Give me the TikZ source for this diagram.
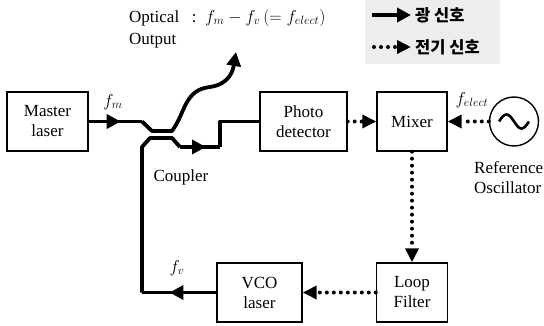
\documentclass[tikz,border=0pt]{standalone}
\usepackage{fontspec}
\setmainfont{Liberation Serif}
\newfontfamily\krfont{Noto Sans CJK KR}
\usetikzlibrary{arrows.meta,decorations.markings}
\tikzset{
  blk/.style={draw,line width=1.4pt,minimum width=#1,minimum height=59pt,inner sep=2pt,align=center,font=\fontsize{17}{20}\selectfont},
  lbl/.style={font=\fontsize{17}{20}\selectfont,inner sep=1pt},
  kr/.style={font=\krfont\bfseries\fontsize{16.5}{19}\selectfont,inner sep=4pt},
  opt/.style={line width=3.8pt,line join=round},
  optarr/.style={opt,-{Triangle[length=14pt,width=14pt]}},
  elec/.style={line width=4pt,line cap=round,dash pattern=on 0pt off 7pt,-{Triangle[length=14pt,width=13pt]}},
  midarr/.style={postaction={decorate},decoration={markings,mark=at position #1 with {\arrow{Triangle[length=14pt,width=14pt]}}}}
}
\begin{document}
\begin{tikzpicture}[x=1pt,y=-1pt]
\useasboundingbox (0,0) rectangle (544,326);
% legend
\fill[gray!14] (365,0) rectangle (500,64);
\node[kr,anchor=west] (lgopt) at (411,15) {광 신호};
\node[kr,anchor=west] (lgele) at (411,47) {전기 신호};
\coordinate (lgo) at (372,15);
\coordinate (lge) at (374,47);
\draw[optarr] (lgo) -- (lgopt.west);
\draw[elec] (lge) -- (lgele.west);
% blocks
\node[blk=81pt] (master) at (47.5,121.5) {Master\\laser};
\node[blk=87pt] (photo) at (303.5,121.5) {Photo\\detector};
\node[blk=70pt] (mixer) at (412,121.5) {Mixer};
\node[blk=71pt] (loop) at (412,292.5) {Loop\\Filter};
\node[blk=85pt] (vco) at (259.5,292.5) {VCO\\laser};
\node[draw,circle,line width=1.4pt,minimum size=49pt,inner sep=0pt] (osc) at (514,121.5) {};
\draw[line width=2.6pt,shift={(osc.center)},domain=-15:15,samples=40] plot (\x,{7*sin(\x*12)});
% coupler
\coordinate (cpa) at (142,121.5);
\coordinate (outtip) at (236,52);
\coordinate (fbc) at (142,292.5);
\coordinate (cpb) at (180,147);
\coordinate (pdturn) at (220,147);
\draw[opt,midarr=0.6] (master.east) -- (cpa);
\draw[optarr] (cpa) -- (152,131) -- (172,131) .. controls (186,112) and (184,90) .. (210,87) .. controls (230,84) and (233,70) .. (outtip);
\draw[opt,midarr=0.63] (vco.west) -- (fbc);
\draw[opt] (fbc) -- (142,147) -- (150,138) -- (172,138) -- (cpb);
\draw[opt,midarr=0.65] (cpb) -- (pdturn);
\draw[opt] (pdturn) |- (photo.west);
% electrical
\draw[elec] (photo.east) -- (mixer.west);
\draw[elec] (osc.west) -- (mixer.east);
\draw[elec] (mixer.south) -- (loop.north);
\draw[elec] (loop.west) -- (vco.east);
% labels
\node[lbl] (fm) at (113,102) {$f_m$};
\node[lbl] (fv) at (177,268) {$f_v$};
\node[lbl] (felect) at (472,100) {$f_{elect}$};
\node[lbl] (cpllbl) at (181,177) {Coupler};
\node[lbl,align=left,anchor=west] (reflbl) at (473,178) {Reference\\Oscillator};
\node[lbl,align=left,anchor=north west] (outlbl) at (128,8) {Optical\ \ \ :\ \ $f_m - f_v \,(= f_{elect})$\\[2pt]Output};
\end{tikzpicture}
\end{document}
